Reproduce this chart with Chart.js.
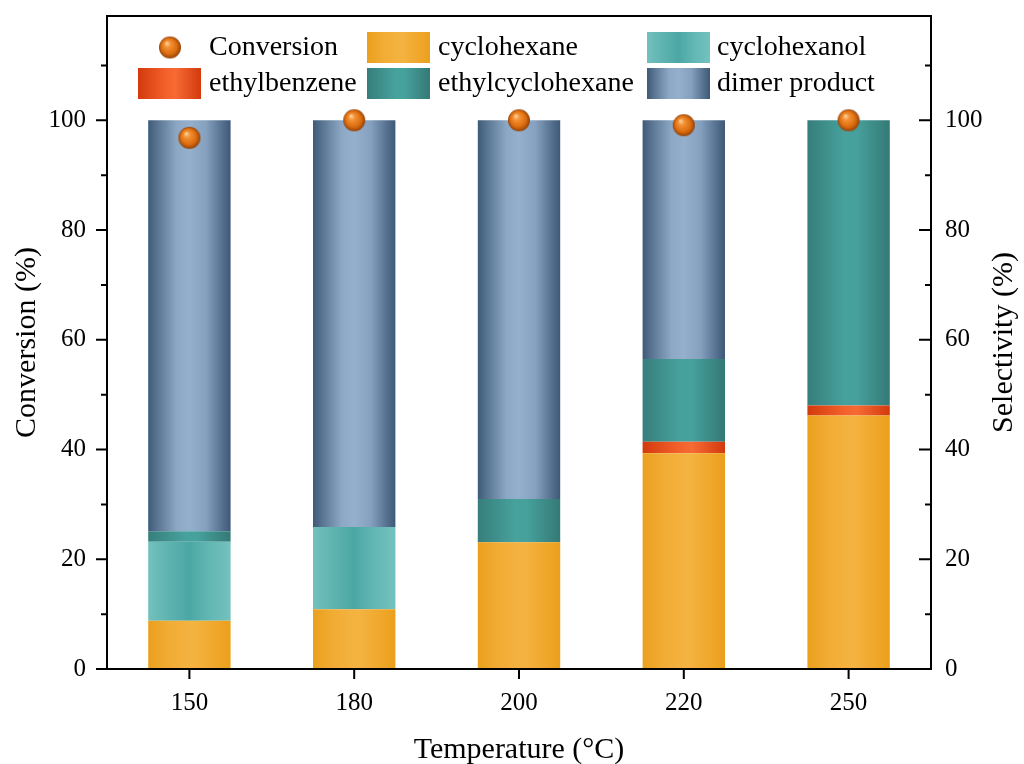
<!DOCTYPE html>
<html>
<head>
<meta charset="utf-8">
<script src="https://cdn.jsdelivr.net/npm/chart.js@4.4.1/dist/chart.umd.min.js"></script>
<style>
  html, body { margin: 0; padding: 0; background: #ffffff; }
  canvas { display: block; }
</style>
</head>
<body>
<canvas id="chart" width="1024" height="764"></canvas>
<script>
// ---- data ----
const temperatures = ['150', '180', '200', '220', '250'];
const conversion = [96.8, 100, 100, 99.1, 100];
const cyclohexane = [8.8, 10.9, 23.1, 39.3, 46.2];
const ethylbenzene = [0, 0, 0, 2.1, 1.8];
const cyclohexanol = [14.4, 15.0, 0, 0, 0];
const ethylcyclohexane = [1.9, 0, 7.9, 15.1, 52.0];
const dimerProduct = [74.9, 74.1, 69.0, 43.5, 0];
const majorTicks = [0, 20, 40, 60, 80, 100];
const minorTicks = [10, 30, 50, 70, 90, 110];

// ---- styles ----
const FONT = '"Liberation Serif", "Times New Roman", serif';
const BAR_FRACTION = 0.5;
const shades = {
  cyclohexane: [[0, '#eba01d'], [0.25, '#f1ac35'], [0.55, '#f4b341'], [0.85, '#efa629'], [1, '#eb9f1c']],
  ethylbenzene: [[0, '#d3390d'], [0.45, '#f4622b'], [0.6, '#f66a34'], [1, '#d3390d']],
  cyclohexanol: [[0, '#72c1be'], [0.25, '#5eb3b0'], [0.5, '#4ba7a4'], [0.75, '#63b7b4'], [1, '#73c2bf']],
  ethylcyclohexane: [[0, '#367e7b'], [0.45, '#47a19d'], [0.6, '#46a09c'], [1, '#347976']],
  dimer: [[0, '#3e5a7a'], [0.1, '#56728f'], [0.35, '#8ca8c5'], [0.5, '#95b0cc'], [0.7, '#86a1bf'], [0.9, '#55708e'], [1, '#3e5979']]
};

function fillGradient(ctx2d, x0, x1, stops) {
  const g = ctx2d.createLinearGradient(x0, 0, x1, 0);
  stops.forEach(([o, c]) => g.addColorStop(o, c));
  return g;
}

// horizontal shading across each bar, computed from the category scale
function barShade(stops) {
  return (context) => {
    const chart = context.chart;
    const xs = chart.scales && chart.scales.x;
    if (context.type !== 'data' || !xs || !chart.chartArea) return stops[2][1];
    const cx = xs.getPixelForValue(context.dataIndex);
    const w = xs.width / chart.data.labels.length * BAR_FRACTION;
    return fillGradient(chart.ctx, cx - w / 2, cx + w / 2, stops);
  };
}

function makeSphere(r) {
  const c = document.createElement('canvas');
  c.width = c.height = 2 * r + 2;
  const g = c.getContext('2d');
  const cx = r + 1, cy = r + 1;
  const grad = g.createRadialGradient(cx - r * 0.3, cy - r * 0.4, r * 0.05, cx, cy, r);
  grad.addColorStop(0, '#fdcf9a');
  grad.addColorStop(0.25, '#f39236');
  grad.addColorStop(0.7, '#dc6d0f');
  grad.addColorStop(1, '#94420a');
  g.fillStyle = grad;
  g.beginPath();
  g.arc(cx, cy, r, 0, Math.PI * 2);
  g.fill();
  return c;
}
const sphere = makeSphere(11);

// ---- frame, ticks, axis titles and legend ----
const legendLayout = [
  { label: 'Conversion', col: 0, row: 0 },
  { label: 'cyclohexane', col: 1, row: 0 },
  { label: 'cyclohexanol', col: 2, row: 0 },
  { label: 'ethylbenzene', col: 0, row: 1 },
  { label: 'ethylcyclohexane', col: 1, row: 1 },
  { label: 'dimer product', col: 2, row: 1 }
];
const legendCols = [{ box: 138, text: 209 }, { box: 367, text: 438 }, { box: 647, text: 717 }];
const legendRows = [31.5, 67.5];

const decor = {
  id: 'decor',
  afterDatasetsDraw(chart) {
    const { ctx, chartArea: a, scales } = chart;
    ctx.save();
    ctx.strokeStyle = '#000';
    ctx.lineWidth = 2;
    ctx.strokeRect(a.left, a.top, a.right - a.left, a.bottom - a.top);
    ctx.beginPath();
    majorTicks.forEach(v => {
      const yl = scales.y.getPixelForValue(v);
      ctx.moveTo(a.left - 11, yl); ctx.lineTo(a.left, yl);
      const yr = scales.y1.getPixelForValue(v);
      ctx.moveTo(a.right - 12, yr); ctx.lineTo(a.right, yr);
    });
    minorTicks.forEach(v => {
      const yl = scales.y.getPixelForValue(v);
      ctx.moveTo(a.left - 6, yl); ctx.lineTo(a.left, yl);
      const yr = scales.y1.getPixelForValue(v);
      ctx.moveTo(a.right - 6, yr); ctx.lineTo(a.right, yr);
    });
    temperatures.forEach((t, i) => {
      const x = scales.x.getPixelForValue(i);
      ctx.moveTo(x, a.bottom); ctx.lineTo(x, a.bottom + 10);
    });
    ctx.stroke();
    ctx.restore();
  },
  afterDraw(chart) {
    const { ctx, chartArea: a } = chart;
    ctx.save();
    ctx.fillStyle = '#000';
    ctx.textBaseline = 'middle';
    ctx.textAlign = 'center';
    ctx.font = '30px ' + FONT;
    const midY = (a.top + a.bottom) / 2;
    ctx.fillText('Temperature (\u00B0C)', (a.left + a.right) / 2, 750);
    ctx.save();
    ctx.translate(27, midY); ctx.rotate(-Math.PI / 2);
    ctx.fillText('Conversion (%)', 0, 0);
    ctx.restore();
    ctx.save();
    ctx.translate(1004, midY); ctx.rotate(-Math.PI / 2);
    ctx.fillText('Selectivity (%)', 0, 0);
    ctx.restore();

    // legend
    ctx.textAlign = 'left';
    ctx.font = '28px ' + FONT;
    legendLayout.forEach(item => {
      const ds = chart.data.datasets.find(d => d.label === item.label);
      const col = legendCols[item.col];
      const cy = a.top + legendRows[item.row];
      if (ds.type === 'line') {
        ctx.drawImage(sphere, 170 - sphere.width / 2, cy - sphere.height / 2);
      } else {
        const x0 = col.box, x1 = col.box + 63;
        ctx.fillStyle = fillGradient(ctx, x0, x1, ds.shade);
        ctx.fillRect(x0, cy - 15.5, 63, 31);
      }
      ctx.fillStyle = '#000';
      ctx.fillText(item.label, col.text, cy);
    });
    ctx.restore();
  }
};

const tickFont = { family: FONT, size: 25 };

function fixWidth(w) {
  return (s) => { s.width = w; s.paddingTop = 0; s.paddingBottom = 0; };
}

new Chart(document.getElementById('chart'), {
  data: {
    labels: temperatures,
    datasets: [
      { type: 'line', label: 'Conversion', data: conversion, yAxisID: 'y', showLine: false,
        pointStyle: sphere, pointRadius: 11, pointHoverRadius: 11, order: 0 },
      { type: 'bar', label: 'cyclohexane', data: cyclohexane, shade: shades.cyclohexane,
        backgroundColor: barShade(shades.cyclohexane), yAxisID: 'y1', stack: 'sel', order: 1 },
      { type: 'bar', label: 'ethylbenzene', data: ethylbenzene, shade: shades.ethylbenzene,
        backgroundColor: barShade(shades.ethylbenzene), yAxisID: 'y1', stack: 'sel', order: 1 },
      { type: 'bar', label: 'cyclohexanol', data: cyclohexanol, shade: shades.cyclohexanol,
        backgroundColor: barShade(shades.cyclohexanol), yAxisID: 'y1', stack: 'sel', order: 1 },
      { type: 'bar', label: 'ethylcyclohexane', data: ethylcyclohexane, shade: shades.ethylcyclohexane,
        backgroundColor: barShade(shades.ethylcyclohexane), yAxisID: 'y1', stack: 'sel', order: 1 },
      { type: 'bar', label: 'dimer product', data: dimerProduct, shade: shades.dimer,
        backgroundColor: barShade(shades.dimer), yAxisID: 'y1', stack: 'sel', order: 1 }
    ]
  },
  options: {
    responsive: false,
    animation: false,
    devicePixelRatio: 1,
    layout: { padding: { top: 16, left: 0, right: 0, bottom: 0 } },
    datasets: { bar: { barPercentage: BAR_FRACTION, categoryPercentage: 1, borderWidth: 0 } },
    plugins: { legend: { display: false }, tooltip: { enabled: false } },
    scales: {
      x: {
        type: 'category', offset: true, stacked: true,
        grid: { display: false, drawTicks: false }, border: { display: false },
        ticks: { font: tickFont, color: '#000', padding: 19, maxRotation: 0 },
        afterFit(s) { s.height = 95; s.paddingLeft = 0; s.paddingRight = 0; }
      },
      y: {
        position: 'left', min: 0, max: 119,
        grid: { display: false, drawTicks: false }, border: { display: false },
        ticks: { stepSize: 20, includeBounds: false, font: tickFont, color: '#000', padding: 21,
                 callback: v => majorTicks.includes(v) ? String(v) : '' },
        afterFit: fixWidth(107)
      },
      y1: {
        position: 'right', min: 0, max: 119, stacked: true,
        grid: { display: false, drawTicks: false }, border: { display: false },
        ticks: { stepSize: 20, includeBounds: false, font: tickFont, color: '#000', padding: 14,
                 callback: v => majorTicks.includes(v) ? String(v) : '' },
        afterFit: fixWidth(93)
      }
    }
  },
  plugins: [decor]
});
</script>
</body>
</html>
